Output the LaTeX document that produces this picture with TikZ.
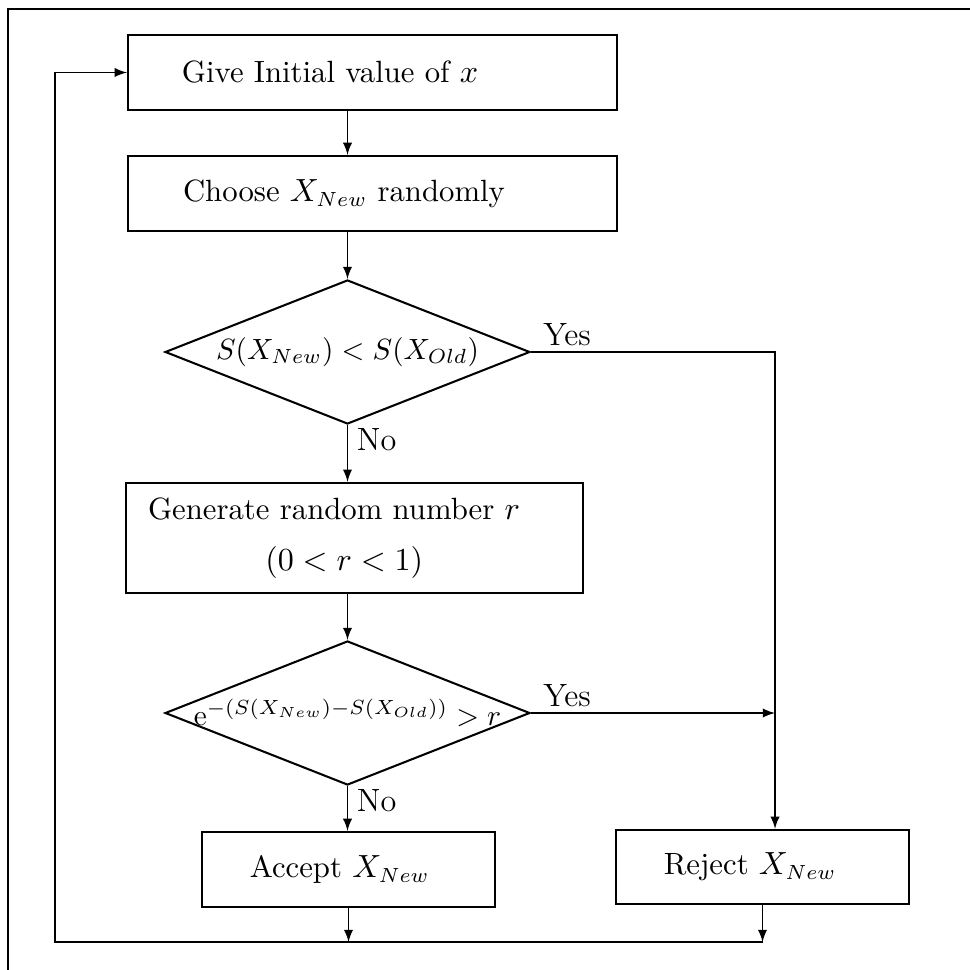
\documentclass[tikz,border=0pt]{standalone}
\usepackage{amsmath,amssymb}
\usepackage{tikz}
\usetikzlibrary{arrows,positioning,shapes.geometric}

\begin{document}
\begin{tikzpicture}%
		[
			x=0.3415pt, y=-0.3415pt,
			font={\fontsize{10.5}{12.6}\selectfont},
			stepbox/.style={
				draw,
				rectangle,
				line width=0.8pt,
				minimum width=167pt,
				minimum height=25.6pt,
				inner sep=0pt,
				align=center,
			},
			decision/.style={
				draw,
				diamond,
				line width=0.7pt,
				minimum width=124.6pt,
				minimum height=49.2pt,
				inner sep=0pt,
			},
			arch/.style={-latex, line width=0.45pt},
			answer/.style={font={\fontsize{11}{13}\selectfont}, inner sep=1pt},
		]
		\useasboundingbox (0,0) rectangle (970,970);
		% frame of the figure
		\draw[line width=0.9pt] (8,970) -- (8,9) -- (970,9);

		\node[stepbox] (init) at (372.5,72.5) {Give Initial value of $x$\hspace*{29pt}};
		\node[stepbox] (choose) at (372.5,193.5) {Choose $X_{New}$ randomly\hspace*{19.5pt}};
		\node[decision] (test1) at (347.5,352) {\makebox[0pt]{\fontsize{10.3}{12}\selectfont$S(X_{New}) < S(X_{Old})$}};
		\node[stepbox, minimum width=156pt, minimum height=37.6pt] (gen) at (354.5,538)
		{Generate random number $r$\hspace*{14pt}\\[5pt] $(0<r<1)$\hspace*{7pt}};
		\node[decision] (test2) at (347.5,713)
		{\makebox[0pt]{\fontsize{10}{12}\selectfont$\mathrm{e}^{-(S(X_{New})-S(X_{Old}))} > r$}};
		\node[stepbox, minimum width=100pt] (accept) at (348.5,869.5) {Accept $X_{New}$\hspace*{6pt}};
		\node[stepbox, minimum width=100pt, minimum height=25.3pt] (reject) at (762.5,867) {Reject $X_{New}$\hspace*{8.5pt}};

		\coordinate (rjoin) at (775,352);
		\coordinate (back) at (55,942);

		\draw[arch] (init.south -| test1.north) -- (choose.north -| test1.north);
		\draw[arch] (choose.south -| test1.north) -- (test1.north);
		\draw[arch]
			(test1.south)
			-- node[answer, pos=0, anchor=north west, xshift=2pt]{No}
			(gen.north -| test1.south);
		\draw[arch] (gen.south -| test2.north) -- (test2.north);
		\draw[arch]
			(test2.south)
			-- node[answer, pos=0, anchor=north west, xshift=2pt]{No}
			(accept.north -| test2.south);
		\draw[arch]
			(test1.east)
			-- node[answer, pos=0, anchor=south west, xshift=3pt, yshift=1pt]{Yes}
			(rjoin)
			-- (reject.north -| rjoin);
		\draw[arch]
			(test2.east)
			-- node[answer, pos=0, anchor=south west, xshift=3pt, yshift=1pt]{Yes}
			(test2.east -| rjoin);
		\draw[arch] (accept.south) -- (accept.south |- back);
		\draw[arch] (reject.south) -- (reject.south |- back);
		% loop back to the start
		\draw[arch]
			(reject.south |- back)
			-- (back)
			-- (back |- init.west)
			-- (init.west);
	\end{tikzpicture}
\end{document}
